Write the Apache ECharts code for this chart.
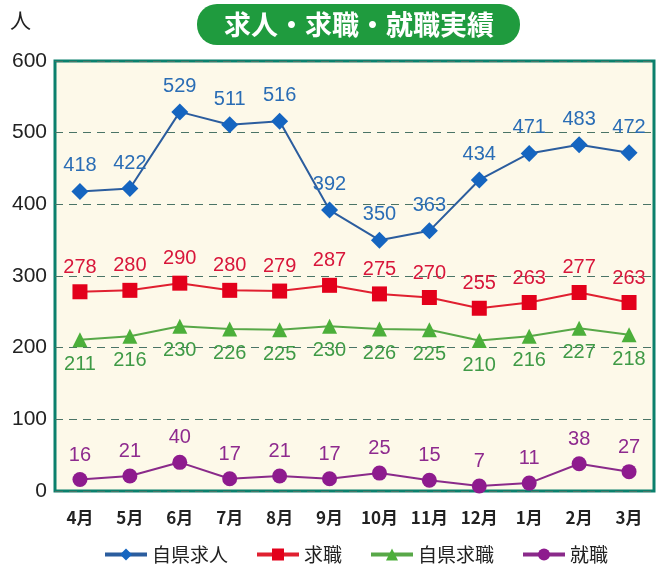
<!DOCTYPE html>
<html>
<head>
<meta charset="utf-8">
<script src="https://cdn.jsdelivr.net/npm/echarts@6/dist/echarts.min.js"></script>
<style>
html,body{margin:0;padding:0;background:#ffffff;}
#c{width:660px;height:569px;}
</style>
</head>
<body>
<div id="c"></div>
<script>
const categories = ['4月','5月','6月','7月','8月','9月','10月','11月','12月','1月','2月','3月'];
const jikenKyujin = [418,422,529,511,516,392,350,363,434,471,483,472];
const kyushoku = [278,280,290,280,279,287,275,270,255,263,277,263];
const jikenKyushoku = [211,216,230,226,225,230,226,225,210,216,227,218];
const shushoku = [16,21,40,17,21,17,25,15,7,11,38,27];
const seriesNames = ['自県求人','求職','自県求職','就職'];
const yTicks = {min:0, max:600, interval:100};

const numFont = '"Liberation Sans", Arial, sans-serif';
const jpFont = '"Noto Sans CJK JP", sans-serif';

const chart = echarts.init(document.getElementById('c'), null, {renderer:'canvas'});

function mkSeries(name, data, color, lineColor, symbol, size, pos, labelColor){
  return {
    name: name, type: 'line', data: data,
    symbol: symbol, symbolSize: size,
    itemStyle: {color: color},
    lineStyle: {color: lineColor, width: 2},
    label: {show: true, position: pos, distance: 7, color: labelColor,
            fontSize: 20, fontFamily: numFont},
    emphasis: {disabled: true},
    z: 3
  };
}

chart.setOption({
  backgroundColor: '#ffffff',
  animation: false,
  grid: {left: 55, right: 6, top: 61, bottom: 78, show: true,
         backgroundColor: '#fdf9e9', borderColor: '#0b806c', borderWidth: 3},
  xAxis: {
    type: 'category', data: categories, boundaryGap: true,
    axisLine: {show: false}, axisTick: {show: false},
    axisLabel: {color: '#222', fontSize: 17, fontFamily: jpFont, margin: 18, fontWeight: 'bold'}
  },
  yAxis: {
    type: 'value', min: yTicks.min, max: yTicks.max, interval: yTicks.interval,
    axisLine: {show: false}, axisTick: {show: false},
    axisLabel: {color: '#222', fontSize: 21, fontFamily: numFont, margin: 8},
    splitLine: {show: true, lineStyle: {color: '#4a7466', type: [8, 6], width: 1}}
  },
  legend: {
    data: seriesNames, left: 98, top: 540,
    itemWidth: 42, itemHeight: 15, itemGap: 27,
    textStyle: {color: '#222', fontSize: 19, fontFamily: jpFont},
    lineStyle: {width: 4}
  },
  graphic: [
    {type: 'rect', left: 197, top: 4, shape: {width: 323, height: 41, r: 20},
     style: {fill: '#1f9b3e'}},
    {type: 'text', x: 359, y: 25,
     style: {text: '求人・求職・就職実績', fill: '#ffffff', fontSize: 27, fontWeight: 'bold',
             fontFamily: jpFont, align: 'center', verticalAlign: 'middle'}},
    {type: 'text', left: 10, top: 10,
     style: {text: '人', fill: '#222', fontSize: 21, fontFamily: jpFont}}
  ],
  series: [
    mkSeries(seriesNames[0], jikenKyujin, '#1565c0', '#2b5d9e', 'diamond', 17, 'top', '#2a6db5'),
    mkSeries(seriesNames[1], kyushoku, '#e3001b', '#e02030', 'rect', 15, 'top', '#d8163a'),
    mkSeries(seriesNames[2], jikenKyushoku, '#4caf3a', '#58a848', 'triangle', 15, 'bottom', '#3f9a46'),
    mkSeries(seriesNames[3], shushoku, '#8e1b8e', '#8a2a8a', 'circle', 15, 'top', '#8e2a8e')
  ]
});
</script>
</body>
</html>
